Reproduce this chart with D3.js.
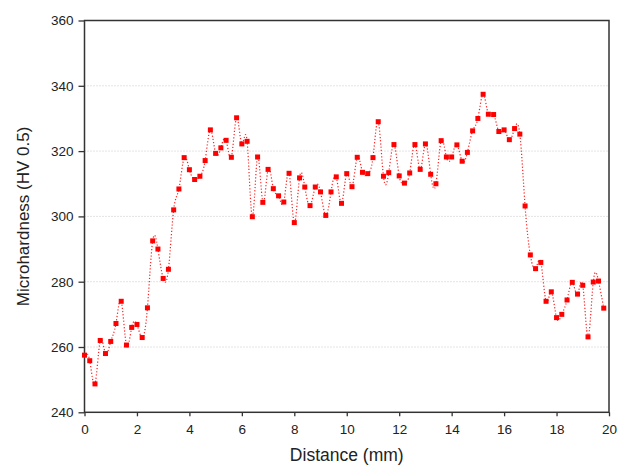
<!DOCTYPE html>
<html>
<head>
<meta charset="utf-8">
<script src="https://cdn.jsdelivr.net/npm/d3@7"></script>
<style>
  body { margin: 0; background: #fff; }
  text { font-family: "Liberation Sans", Arial, sans-serif; fill: #222; }
</style>
</head>
<body>
<svg id="chart"></svg>
<script>
// measurement step along the line (mm)
const step = 0.2;

// microhardness readings, one every 0.2 mm from 0 mm
const hardness = [
  257.5, 255.8, 248.7, 262.0, 258.0, 261.7, 267.2, 274.0, 260.6, 266.0,
  266.9, 262.9, 272.0, 292.5, 290.0, 281.0, 283.8, 302.0, 308.4, 318.0,
  314.3, 311.3, 312.3, 317.1, 326.5, 319.3, 321.0, 323.3, 318.1, 330.2,
  322.2, 323.0, 299.9, 318.2, 304.3, 314.4, 308.5, 306.3, 304.4, 313.2,
  298.1, 311.8, 309.0, 303.3, 309.0, 307.5, 300.3, 307.5, 312.1, 304.0,
  313.1, 309.1, 318.1, 313.5, 313.1, 318.0, 329.0, 312.3, 313.4, 322.0,
  312.4, 310.2, 313.3, 322.0, 314.4, 322.2, 312.9, 310.0, 323.2, 318.2,
  318.2, 321.9, 316.9, 319.6, 326.2, 330.0, 337.4, 331.3, 331.2, 326.0,
  326.5, 323.5, 326.9, 325.2, 303.2, 288.2, 284.0, 285.9, 274.0, 276.9,
  269.0, 270.0, 274.4, 279.8, 276.2, 278.9, 263.1, 279.9, 280.2, 271.9
];

const xTicks = [0, 2, 4, 6, 8, 10, 12, 14, 16, 18, 20];
const yTicks = [240, 260, 280, 300, 320, 340, 360];
const gridTicks = [260, 280, 300, 320, 340];

const xLabel = "Distance (mm)";
const yLabel = "Microhardness (HV 0.5)";

const points = hardness.map((v, i) => ({ x: +(i * step).toFixed(1), y: v }));

const W = 618, H = 467;
const margin = { top: 20.5, right: 9, bottom: 54.7, left: 84.5 };
const width = W - margin.left - margin.right;
const height = H - margin.top - margin.bottom;

const svg = d3.select("#chart").attr("width", W).attr("height", H);
const chart = svg.append("g")
  .attr("transform", `translate(${margin.left},${margin.top})`);

const xScale = d3.scaleLinear().domain([0, 20]).range([0, width]);
const yScale = d3.scaleLinear().domain([240, 360]).range([height, 0]);

// dotted horizontal grid
chart.append("g")
  .selectAll("line")
  .data(gridTicks)
  .join("line")
  .attr("x1", 0)
  .attr("x2", width)
  .attr("y1", (d) => yScale(d))
  .attr("y2", (d) => yScale(d))
  .attr("stroke", "#c8c8c8")
  .attr("stroke-width", 1)
  .attr("stroke-dasharray", "1,2");

// axes with outward ticks
const xAxis = chart.append("g")
  .attr("transform", `translate(0,${height})`)
  .call(d3.axisBottom(xScale).tickValues(xTicks).tickSize(4).tickPadding(8).tickFormat(d3.format("d")));
const yAxis = chart.append("g")
  .call(d3.axisLeft(yScale).tickValues(yTicks).tickSize(6).tickPadding(5).tickFormat(d3.format("d")));

[xAxis, yAxis].forEach((g) => {
  g.select(".domain").remove();
  g.selectAll("line").attr("stroke", "#333").attr("stroke-width", 1.3);
  g.selectAll("text").attr("font-size", 13.5).attr("fill", "#222")
    .style("font-family", "'Liberation Sans', Arial, sans-serif");
});

// frame
chart.append("rect")
  .attr("x", 0).attr("y", 0)
  .attr("width", width).attr("height", height)
  .attr("fill", "none")
  .attr("stroke", "#333")
  .attr("stroke-width", 1.5);

// axis titles
svg.append("text")
  .attr("x", margin.left + width / 2)
  .attr("y", H - 6)
  .attr("text-anchor", "middle")
  .attr("font-size", 17.5)
  .text(xLabel);

svg.append("text")
  .attr("transform", "rotate(-90)")
  .attr("x", -(margin.top + height / 2))
  .attr("y", 29)
  .attr("text-anchor", "middle")
  .attr("font-size", 17)
  .text(yLabel);

// dotted spline through the readings
const line = d3.line()
  .x((d) => xScale(d.x))
  .y((d) => yScale(d.y))
  .curve(d3.curveNatural);

chart.append("path")
  .datum(points)
  .attr("d", line)
  .attr("fill", "none")
  .attr("stroke", "#ff2020")
  .attr("stroke-width", 1.2)
  .attr("stroke-dasharray", "1.2,2");

// square markers
const size = 5;
chart.append("g")
  .selectAll("rect")
  .data(points)
  .join("rect")
  .attr("x", (d) => xScale(d.x) - size / 2)
  .attr("y", (d) => yScale(d.y) - size / 2)
  .attr("width", size)
  .attr("height", size)
  .attr("fill", "#ff0000");
</script>
</body>
</html>
